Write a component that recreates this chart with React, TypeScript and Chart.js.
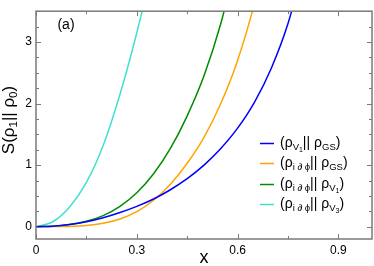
import React, { useEffect, useRef } from 'react';
import { Chart, registerables } from 'chart.js';
Chart.register(...registerables);

const xs = [0, 0.05, 0.1, 0.15, 0.2, 0.25, 0.3, 0.35, 0.4, 0.45, 0.5, 0.55, 0.6, 0.65, 0.7, 0.75, 0.8];
const blueVals = [0, 0.009, 0.036, 0.08, 0.145, 0.23, 0.33, 0.45, 0.6, 0.78, 1.0, 1.27, 1.6, 2.02, 2.57, 3.3, 4.3];
const orangeVals = [0, 0.001, 0.005, 0.018, 0.055, 0.125, 0.245, 0.43, 0.69, 1.03, 1.45, 2.0, 2.7, 3.62, 4.8];
const greenVals = [0, 0.008, 0.035, 0.088, 0.18, 0.33, 0.55, 0.86, 1.27, 1.8, 2.45, 3.3, 4.4];
const cyanVals = [0, 0.08, 0.32, 0.72, 1.32, 2.15, 3.15, 4.3];

const xMajor = [0, 0.3, 0.6, 0.9];
const xMinor = [0.15, 0.45, 0.75];
const yMajor = [0, 1, 2, 3];
const yMinor = [0.25, 0.5, 0.75, 1.25, 1.5, 1.75, 2.25, 2.5, 2.75, 3.25];
const xTickLabels = ['0', '0.3', '0.6', '0.9'];
const yTickLabels = ['0', '1', '2', '3'];

const seriesColors = ['#0000ff', '#ffa500', '#008c00', '#40e0d0'];
type Seg = [string, number];
const legendLabels: Seg[][] = [
  [['(ρ', 0], ['V', 1], ['1', 2], ['|| ρ', 0], ['GS', 1], [')', 0]],
  [['(ρ', 0], ['i ∂ ϕ', 1], ['|| ρ', 0], ['GS', 1], [')', 0]],
  [['(ρ', 0], ['i ∂ ϕ', 1], ['|| ρ', 0], ['V', 1], ['1', 2], [')', 0]],
  [['(ρ', 0], ['i ∂ ϕ', 1], ['|| ρ', 0], ['V', 1], ['3', 2], [')', 0]],
];
const yTitle: Seg[] = [['S(ρ', 0], ['1', 1], ['|| ρ', 0], ['0', 1], [')', 0]];
const xTitle = 'x';
const panelLabel = '(a)';

const FONT = '"Liberation Sans", Arial, Helvetica, sans-serif';

function drawRich(ctx: CanvasRenderingContext2D, segs: Seg[], x: number, y: number, base: number, align: 'left' | 'center') {
  const sizes = [base, base * 0.68, base * 0.5];
  const offs = [0, base * 0.3, base * 0.5];
  let total = 0;
  const widths: number[] = [];
  for (const [t, l] of segs) {
    ctx.font = `${sizes[l]}px ${FONT}`;
    const w = ctx.measureText(t).width;
    widths.push(w);
    total += w;
  }
  let cx = align === 'center' ? x - total / 2 : x;
  ctx.textBaseline = 'middle';
  ctx.textAlign = 'left';
  segs.forEach(([t, l], i) => {
    ctx.font = `${sizes[l]}px ${FONT}`;
    ctx.fillText(t, cx, y + offs[l]);
    cx += widths[i];
  });
}

const decorPlugin = {
  id: 'decor',
  afterDraw(chart: any) {
    const { ctx, chartArea: a, scales } = chart;
    const sx = scales.x, sy = scales.y;
    ctx.save();
    ctx.strokeStyle = '#7a7a7a';
    ctx.lineWidth = 1;
    ctx.beginPath();
    const tick = (v: number, len: number, axis: 'x' | 'y') => {
      if (axis === 'x') {
        const p = Math.round(sx.getPixelForValue(v)) + 0.5;
        ctx.moveTo(p, a.bottom); ctx.lineTo(p, a.bottom - len);
        ctx.moveTo(p, a.top); ctx.lineTo(p, a.top + len);
      } else {
        const p = Math.round(sy.getPixelForValue(v)) + 0.5;
        ctx.moveTo(a.left, p); ctx.lineTo(a.left + len, p);
        ctx.moveTo(a.right, p); ctx.lineTo(a.right - len, p);
      }
    };
    xMajor.forEach((v) => tick(v, 5, 'x'));
    xMinor.forEach((v) => tick(v, 3, 'x'));
    yMajor.forEach((v) => tick(v, 5, 'y'));
    yMinor.forEach((v) => tick(v, 3, 'y'));
    ctx.stroke();
    ctx.lineWidth = 1.5;
    ctx.strokeRect(a.left, a.top, a.right - a.left, a.bottom - a.top);

    ctx.fillStyle = '#000';
    ctx.font = `14px ${FONT}`;
    ctx.textAlign = 'center';
    ctx.textBaseline = 'middle';
    ctx.fillText(panelLabel, 66, 25);

    const rows = [143, 163, 184, 204];
    legendLabels.forEach((segs, i) => {
      ctx.strokeStyle = seriesColors[i];
      ctx.lineWidth = 1.5;
      ctx.beginPath();
      ctx.moveTo(260, rows[i] + 0.5);
      ctx.lineTo(274, rows[i] + 0.5);
      ctx.stroke();
      ctx.fillStyle = '#000';
      drawRich(ctx, segs, 280, rows[i], 14, 'left');
    });

    ctx.font = `18px ${FONT}`;
    ctx.textAlign = 'center';
    ctx.textBaseline = 'middle';
    ctx.fillText(xTitle, (a.left + a.right) / 2, 258);

    ctx.save();
    ctx.translate(9, 120);
    ctx.rotate(-Math.PI / 2);
    drawRich(ctx, yTitle, 0, 0, 17, 'center');
    ctx.restore();
    ctx.restore();
  },
};

const toPts = (vals: number[]) => vals.map((v, i) => ({ x: xs[i], y: v }));

export default function App() {
  const ref = useRef<HTMLCanvasElement>(null);
  useEffect(() => {
    if (!ref.current) return;
    const all = [blueVals, orangeVals, greenVals, cyanVals];
    const chart = new Chart(ref.current, {
      type: 'line',
      data: {
        datasets: all.map((vals, i) => ({
          data: toPts(vals),
          borderColor: seriesColors[i],
          borderWidth: 1.5,
          pointRadius: 0,
          fill: false,
          cubicInterpolationMode: 'monotone' as const,
        })),
      },
      options: {
        animation: false,
        responsive: true,
        maintainAspectRatio: false,
        layout: { padding: { left: 0, right: 2, top: 2, bottom: 0 } },
        plugins: { legend: { display: false }, tooltip: { enabled: false } },
        scales: {
          x: {
            type: 'linear',
            min: 0,
            max: 1,
            grid: { display: false, drawTicks: false },
            border: { display: false },
            afterFit: (s: any) => { s.height = 27; },
            afterBuildTicks: (s: any) => { s.ticks = xMajor.map((v) => ({ value: v })); },
            ticks: {
              padding: 4,
              color: '#000',
              font: { family: FONT, size: 12 },
              maxRotation: 0,
              autoSkip: false,
              callback: (v: any) => xTickLabels[xMajor.indexOf(Number(v))] ?? '',
            },
          },
          y: {
            type: 'linear',
            min: -0.2,
            max: 3.5,
            grid: { display: false, drawTicks: false },
            border: { display: false },
            afterFit: (s: any) => { s.width = 36; },
            afterBuildTicks: (s: any) => { s.ticks = yMajor.map((v) => ({ value: v })); },
            ticks: {
              padding: 4,
              color: '#000',
              font: { family: FONT, size: 12 },
              autoSkip: false,
              callback: (v: any) => yTickLabels[yMajor.indexOf(Number(v))] ?? '',
            },
          },
        },
      },
      plugins: [decorPlugin],
    });
    return () => chart.destroy();
  }, []);
  return (
    <div style={{ position: 'absolute', left: 0, top: 0, width: 374, height: 266, background: '#fff' }}>
      <canvas ref={ref} />
    </div>
  );
}
